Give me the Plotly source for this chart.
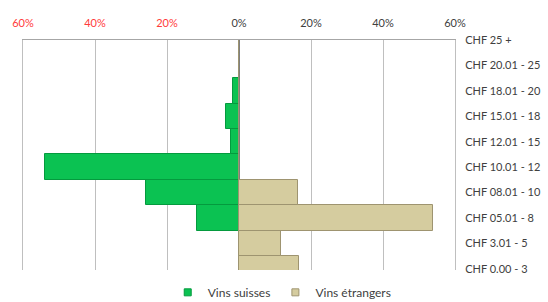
import plotly.graph_objects as go

categories = ["CHF 0.00 - 3", "CHF 3.01 - 5", "CHF 05.01 - 8", "CHF 08.01 - 10", "CHF 10.01 - 12",
              "CHF 12.01 - 15", "CHF 15.01 - 18", "CHF 18.01 - 20", "CHF 20.01 - 25", "CHF 25 +"]
vins_suisses = [0, 0, 11.7, 25.7, 54.0, 2.2, 3.7, 1.8, 0, 0]
vins_etrangers = [16.6, 11.8, 53.8, 16.4, 0, 0, 0, 0, 0, 0]
series_names = ["Vins suisses", "Vins étrangers"]
tick_vals = [-60, -40, -20, 0, 20, 40, 60]
tick_text = ['<span style="color:#FF3B3B">60%</span>', '<span style="color:#FF3B3B">40%</span>',
             '<span style="color:#FF3B3B">20%</span>', "0%", "20%", "40%", "60%"]

green, green_line = "#0BC252", "#049A3E"
tan, tan_line = "#D5CC9F", "#9E9470"

fig = go.Figure()
fig.add_trace(go.Bar(
    y=categories, x=[-v for v in vins_suisses], orientation="h", name=series_names[0],
    marker=dict(color=green, line=dict(color=green_line, width=1)), showlegend=False,
))
fig.add_trace(go.Bar(
    y=categories, x=vins_etrangers, orientation="h", name=series_names[1],
    marker=dict(color=tan, line=dict(color=tan_line, width=1)), showlegend=False,
))
# legend entries with small square markers
for nm, c, lc in [(series_names[0], green, green_line), (series_names[1], tan, tan_line)]:
    fig.add_trace(go.Scatter(x=[None], y=[None], mode="markers", name=nm,
                             marker=dict(symbol="square", size=7, color=c, line=dict(color=lc, width=1))))

fig.update_layout(
    width=548, height=302,
    margin=dict(l=23, r=93, t=40, b=32, autoexpand=False),
    barmode="relative", bargap=0,
    paper_bgcolor="white", plot_bgcolor="white",
    font=dict(family="Lato, Open Sans, sans-serif", size=11, color="#404040"),
    showlegend=True,
    legend=dict(orientation="h", xref="container", yref="container",
                x=0.515, xanchor="center", y=0.08, yanchor="top",
                font=dict(size=12, color="#404040"), itemwidth=30, tracegroupgap=0),
    xaxis=dict(side="top", range=[-60, 60], tickvals=tick_vals, ticktext=tick_text,
               showgrid=True, gridcolor="#BFBFBF", gridwidth=1,
               zeroline=True, zerolinecolor="#7F7F7F", zerolinewidth=2,
               showline=True, linecolor="#A6A6A6", linewidth=1,
               ticks="", ticklabelstandoff=8, fixedrange=True, automargin=False),
    yaxis=dict(side="right", type="category", categoryorder="array", categoryarray=categories,
               range=[-0.05, 9.0], showgrid=False, zeroline=False,
               showline=True, mirror=True, linecolor="#BFBFBF", linewidth=1,
               ticks="", ticklabelstandoff=7, fixedrange=True, automargin=False),
)

fig.write_html("out.html", config={"displayModeBar": False},
               post_script="document.body.style.margin='0px';")
